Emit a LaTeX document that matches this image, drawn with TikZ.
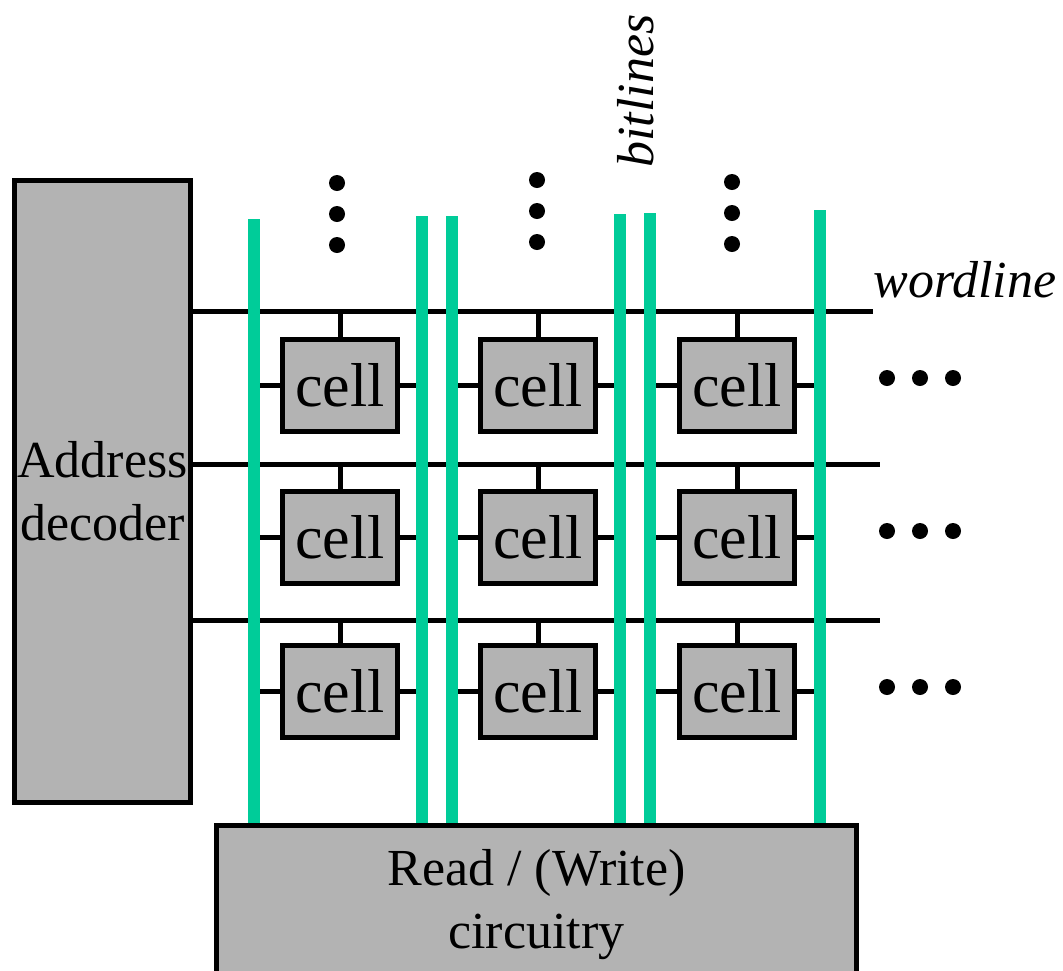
\documentclass[tikz,border=0pt]{standalone}
\usepackage{fontspec}
\setmainfont{Liberation Serif}
\usetikzlibrary{backgrounds}

\definecolor{bitgreen}{HTML}{00CC99}
\definecolor{boxgray}{HTML}{B3B3B3}

\tikzset{
  graybox/.style={draw, line width=2.5pt, fill=boxgray, inner sep=0pt},
  cellbox/.style={graybox, minimum width=57.5pt, minimum height=46pt,
    font=\fontsize{31}{36}\selectfont},
  bigtext/.style={font=\fontsize{26}{31.5}\selectfont, align=center},
  wire/.style={line width=2.5pt},
  bitline/.style={bitgreen, line width=5.75pt}
}

\begin{document}
\begin{tikzpicture}[x=0.5pt, y=-0.5pt]
  \useasboundingbox (0,0) rectangle (1063,970);
  \clip (0,0) rectangle (1063,970);

  % decoder and read/write blocks
  \node[graybox, bigtext, minimum width=88pt, minimum height=311pt] (dec) at (102.5,491.5) {Address\\decoder};
  \node[graybox, bigtext, minimum width=320pt, minimum height=80pt] (rw) at (536.5,905) {Read / (Write)\\circuitry};

  % memory cells
  \foreach \r/\y in {1/385,2/537,3/691}
    \foreach \c/\x in {1/340,2/538,3/737}
      \node[cellbox] (c\r\c) at (\x,\y) {cell};

  % ends of wordlines and tops of bitlines
  \coordinate (w1) at (873,311);
  \coordinate (w2) at (880,464);
  \coordinate (w3) at (880,620);
  \foreach \i/\x/\t in {1/254/219, 2/422/216, 3/452/216, 4/620/214, 5/650/213, 6/820/210}
    \coordinate (b\i) at (\x,\t);

  \begin{scope}[on background layer]
    \foreach \r in {1,2,3}
      \draw[wire] (dec.east |- w\r) -- (w\r);
    \foreach \r in {1,2,3}
      \foreach \c/\l/\rr in {1/1/2,2/3/4,3/5/6} {
        \draw[wire] (c\r\c.north) -- (c\r\c.north |- w\r);
        \draw[wire] (c\r\c.west) -- (b\l |- c\r\c.west);
        \draw[wire] (c\r\c.east) -- (b\rr |- c\r\c.east);
      }
    \foreach \i in {1,...,6}
      \draw[bitline] (b\i) -- (b\i |- rw.north);
  \end{scope}

  % more rows and columns
  \foreach \x/\y in {337/183, 537/180, 732/182}
    \foreach \k in {0,1,2}
      \fill (\x,\y+31*\k) circle (4pt);
  \foreach \y in {378,531,687}
    \foreach \x in {887,920,953}
      \fill (\x,\y) circle (4pt);

  \node[bigtext, font=\fontsize{26}{31.5}\selectfont\itshape, anchor=base west, inner sep=0pt] (wl) at (873,297) {wordline};
  \node[bigtext, font=\fontsize{26}{31.5}\selectfont\itshape, anchor=base west, inner sep=0pt, rotate=90] (bl) at (653,168) {bitlines};
\end{tikzpicture}
\end{document}
